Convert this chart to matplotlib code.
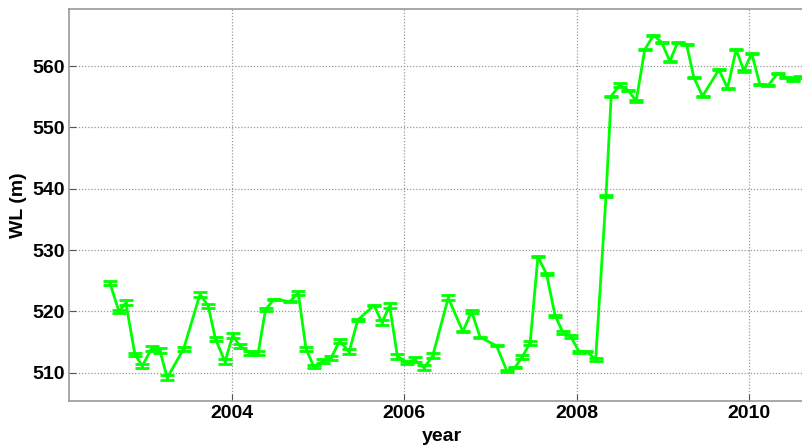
import matplotlib
matplotlib.use("Agg")
import matplotlib.pyplot as plt

# Water level time series (decimal year, metres) with altimetry error
years = [2002.585, 2002.69, 2002.77, 2002.875, 2002.96, 2003.07, 2003.165, 2003.25,
         2003.44, 2003.63, 2003.725, 2003.81, 2003.92, 2004.01, 2004.09, 2004.21,
         2004.305, 2004.39, 2004.49, 2004.67, 2004.77, 2004.86, 2004.95, 2005.06,
         2005.15, 2005.25, 2005.36, 2005.46, 2005.65, 2005.74, 2005.83, 2005.92,
         2006.03, 2006.12, 2006.23, 2006.33, 2006.51, 2006.68, 2006.78, 2006.88,
         2007.07, 2007.19, 2007.28, 2007.37, 2007.46, 2007.55, 2007.65, 2007.75,
         2007.84, 2007.93, 2008.03, 2008.11, 2008.22, 2008.34, 2008.40, 2008.50,
         2008.60, 2008.69, 2008.79, 2008.89, 2008.985, 2009.08, 2009.17, 2009.275,
         2009.36, 2009.46, 2009.65, 2009.75, 2009.85, 2009.94, 2010.03, 2010.125,
         2010.22, 2010.33, 2010.43, 2010.51, 2010.59]
wl = [524.6, 520.0, 521.4, 513.0, 511.1, 514.0, 513.6, 509.2,
      513.9, 522.8, 520.9, 515.5, 511.8, 516.1, 514.4, 513.2,
      513.2, 520.3, 522.0, 521.6, 523.0, 513.9, 511.0, 511.9,
      512.4, 515.2, 513.4, 518.6, 521.0, 518.2, 520.9, 512.7,
      511.7, 512.1, 510.8, 512.8, 522.2, 516.7, 520.0, 515.8,
      514.4, 510.3, 510.8, 512.6, 514.9, 528.9, 526.1, 519.3,
      516.6, 515.9, 513.4, 513.5, 512.2, 538.8, 555.1, 556.9,
      556.0, 554.3, 562.7, 565.0, 563.9, 560.8, 563.8, 563.5,
      558.1, 555.1, 559.4, 556.4, 562.7, 559.2, 562.1, 557.0,
      556.8, 558.8, 558.1, 557.7, 558.2]
err = [0.3, 0.2, 0.4, 0.3, 0.4, 0.4, 0.4, 0.4,
       0.3, 0.4, 0.3, 0.4, 0.4, 0.4, 0.3, 0.3,
       0.3, 0.2, 0.1, 0.1, 0.4, 0.3, 0.3, 0.3,
       0.3, 0.3, 0.4, 0.1, 0.1, 0.4, 0.4, 0.4,
       0.3, 0.4, 0.4, 0.4, 0.4, 0.1, 0.3, 0.1,
       0.1, 0.1, 0.1, 0.3, 0.3, 0.1, 0.2, 0.2,
       0.2, 0.2, 0.1, 0.1, 0.2, 0.1, 0.1, 0.3,
       0.1, 0.1, 0.1, 0.1, 0.1, 0.1, 0.1, 0.1,
       0.1, 0.1, 0.1, 0.1, 0.1, 0.1, 0.1, 0.1,
       0.1, 0.1, 0.1, 0.1, 0.1]

x_ticks = [2004, 2006, 2008, 2010]
y_ticks = [510, 520, 530, 540, 550, 560]

plt.rcParams["font.family"] = ["Liberation Sans", "DejaVu Sans"]
plt.rcParams["font.weight"] = "bold"

fig = plt.figure(figsize=(8.03, 4.46), dpi=100)
ax = fig.add_axes([0.0859, 0.1009, 0.93, 0.8789])

ax.errorbar(years, wl, yerr=err, color="#00ff00", lw=2.0,
            elinewidth=2.0, capsize=5, capthick=2.0)

ax.set_xlim(2002.11, 2002.11 + 0.93 * 803 / 86.2)
ax.set_ylim(505.4, 569.3)
ax.set_xticks(x_ticks)
ax.set_yticks(y_ticks)
ax.set_xticklabels([str(t) for t in x_ticks], fontsize=14, fontweight="bold")
ax.set_yticklabels([str(t) for t in y_ticks], fontsize=14, fontweight="bold")
ax.tick_params(direction="in", length=5, color="#555555", pad=3)

ax.grid(True, linestyle=(0, (1, 1.5)), color="#999999", linewidth=0.9)
for side in ("left", "bottom", "top", "right"):
    ax.spines[side].set_color("#999999")
    ax.spines[side].set_linewidth(1.2)

ax.set_xlabel("year", fontsize=14, fontweight="bold", labelpad=4)
ax.set_ylabel("WL (m)", fontsize=14, fontweight="bold", labelpad=4)

fig.savefig("out.png", dpi=100)
